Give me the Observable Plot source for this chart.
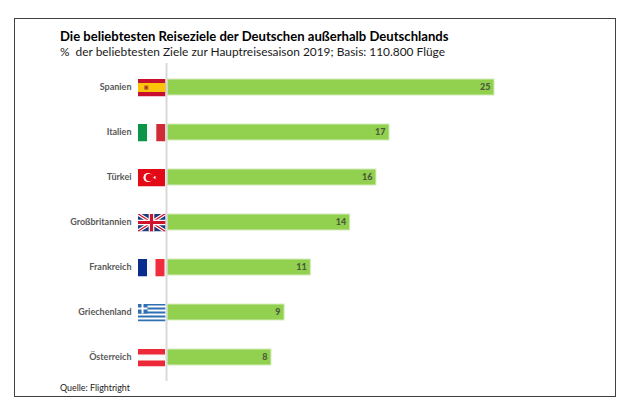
<!DOCTYPE html>
<html>
<head>
<meta charset="utf-8">
<script src="https://cdn.jsdelivr.net/npm/d3@7"></script>
<script src="https://cdn.jsdelivr.net/npm/@observablehq/plot@0.6"></script>
<style>
html,body{margin:0;padding:0;background:#fff}
#page{position:relative;width:628px;height:418px;overflow:hidden;font-family:Lato,sans-serif}
#frame{position:absolute;left:14px;top:18px;width:600px;height:377px;border:1.3px solid #404040;box-sizing:content-box;pointer-events:none}
#title,#subtitle,#source{position:absolute;left:60px;white-space:pre;color:#000}
#title{top:26.5px;font-size:13.1px;font-weight:700;line-height:18px}
#subtitle{top:44px;font-size:11.9px;line-height:16px;color:#1a1a1a}
#source{top:381px;font-size:8.9px;line-height:13px;color:#1a1a1a}
#chart{position:absolute;left:0;top:0}
#chart svg{display:block}
</style>
</head>
<body>
<div id="page">
  <div id="chart"></div>
  <div id="frame"></div>
  <div id="title"></div>
  <div id="subtitle"></div>
  <div id="source"></div>
</div>
<script>
const titleText = "Die beliebtesten Reiseziele der Deutschen außerhalb Deutschlands";
const subtitleText = "%  der beliebtesten Ziele zur Hauptreisesaison 2019; Basis: 110.800 Flüge";
const sourceText = "Quelle: Flightright";

const countries = ["Spanien","Italien","Türkei","Großbritannien","Frankreich","Griechenland","Österreich"];
const shares = [25,17,16,14,11,9,8];

const wrap = s => "data:image/svg+xml," + encodeURIComponent(
  `<svg xmlns="http://www.w3.org/2000/svg" width="28" height="18" viewBox="0 0 28 18">${s}</svg>`);

const flagSpain = wrap(`<rect width="28" height="18" fill="#c8102e"/><rect y="4.5" width="28" height="9" fill="#fcc30b"/><rect x="6.5" y="6.8" width="4.5" height="4.6" rx="1.2" fill="#c8742a"/><rect x="7.6" y="8" width="2.2" height="2.2" fill="#b0261f"/>`);
const flagItaly = wrap(`<rect width="28" height="18" fill="#fafafa"/><rect x="0.5" width="9" height="18" fill="#0a9548"/><rect x="18.8" width="9" height="18" fill="#cf2b37"/>`);
const flagTurkey = wrap(`<rect x="0.5" width="27" height="18" fill="#e30a17"/><circle cx="10.5" cy="9" r="4.6" fill="#fff"/><circle cx="11.8" cy="9" r="3.7" fill="#e30a17"/><path d="M15.2 9l3.6-1.2-2.2 3V7.2l2.2 3z" fill="#fff"/>`);
const flagUK = wrap(`<rect width="28" height="18" fill="#1f3a7d"/><path d="M0 0L28 18M28 0L0 18" stroke="#fff" stroke-width="3.6"/><path d="M0 0L28 18M28 0L0 18" stroke="#cf142b" stroke-width="1.3"/><path d="M14 0V18M0 9H28" stroke="#fff" stroke-width="5.6"/><path d="M14 0V18M0 9H28" stroke="#cf142b" stroke-width="3.2"/>`);
const flagFrance = wrap(`<rect width="27" height="18" fill="#fafafa"/><rect width="9.5" height="18" fill="#0b2c8f"/><rect x="18" width="9" height="18" fill="#ef2b3c"/>`);
const flagGreece = wrap(`<rect width="28" height="18" fill="#fff"/><g fill="#2f6fb2"><rect width="28" height="2"/><rect y="4" width="28" height="2"/><rect y="8" width="28" height="2"/><rect y="12" width="28" height="2"/><rect y="16" width="28" height="2"/><rect width="10" height="10"/></g><path d="M5 0V10M0 5H10" stroke="#fff" stroke-width="2"/>`);
const flagAustria = wrap(`<rect x="0.5" width="27" height="18" fill="#f9f9f9"/><rect x="0.5" width="27" height="6" fill="#ed2939"/><rect x="0.5" y="12" width="27" height="6" fill="#ed2939"/>`);
const flags = [flagSpain,flagItaly,flagTurkey,flagUK,flagFrance,flagGreece,flagAustria];

const rows = countries.map((country,i)=>({country,share:shares[i],flag:flags[i]}));

document.getElementById("title").textContent = titleText;
document.getElementById("subtitle").textContent = subtitleText;
document.getElementById("source").textContent = sourceText;

const plot = Plot.plot({
  width:628,height:418,
  marginLeft:166,marginRight:134,marginTop:63,marginBottom:37,
  style:{background:"transparent",fontFamily:"Lato,sans-serif"},
  x:{domain:[0,25],axis:null},
  y:{domain:countries,paddingInner:0.64,paddingOuter:0.32,align:0.5,label:null},
  marks:[
    Plot.barX(rows,{x:"share",y:"country",fill:"#92d050",stroke:"#d3ebbb",strokeWidth:1,insetLeft:1}),
    Plot.ruleX([0],{stroke:"#d9d9d9",strokeWidth:2}),
    Plot.axisY({tickSize:0,tickPadding:35,fontSize:9,fontWeight:700,fill:"#595959",label:null}),
    Plot.image(rows,{x:()=>0,y:"country",src:"flag",width:28,height:18,dx:-15,preserveAspectRatio:"none"}),
    Plot.text(rows,{x:"share",y:"country",text:d=>String(d.share),textAnchor:"end",dx:-4,fontSize:9,fontWeight:900,fill:"#4a5a3a"})
  ]
});
document.getElementById("chart").appendChild(plot);
</script>
</body>
</html>
